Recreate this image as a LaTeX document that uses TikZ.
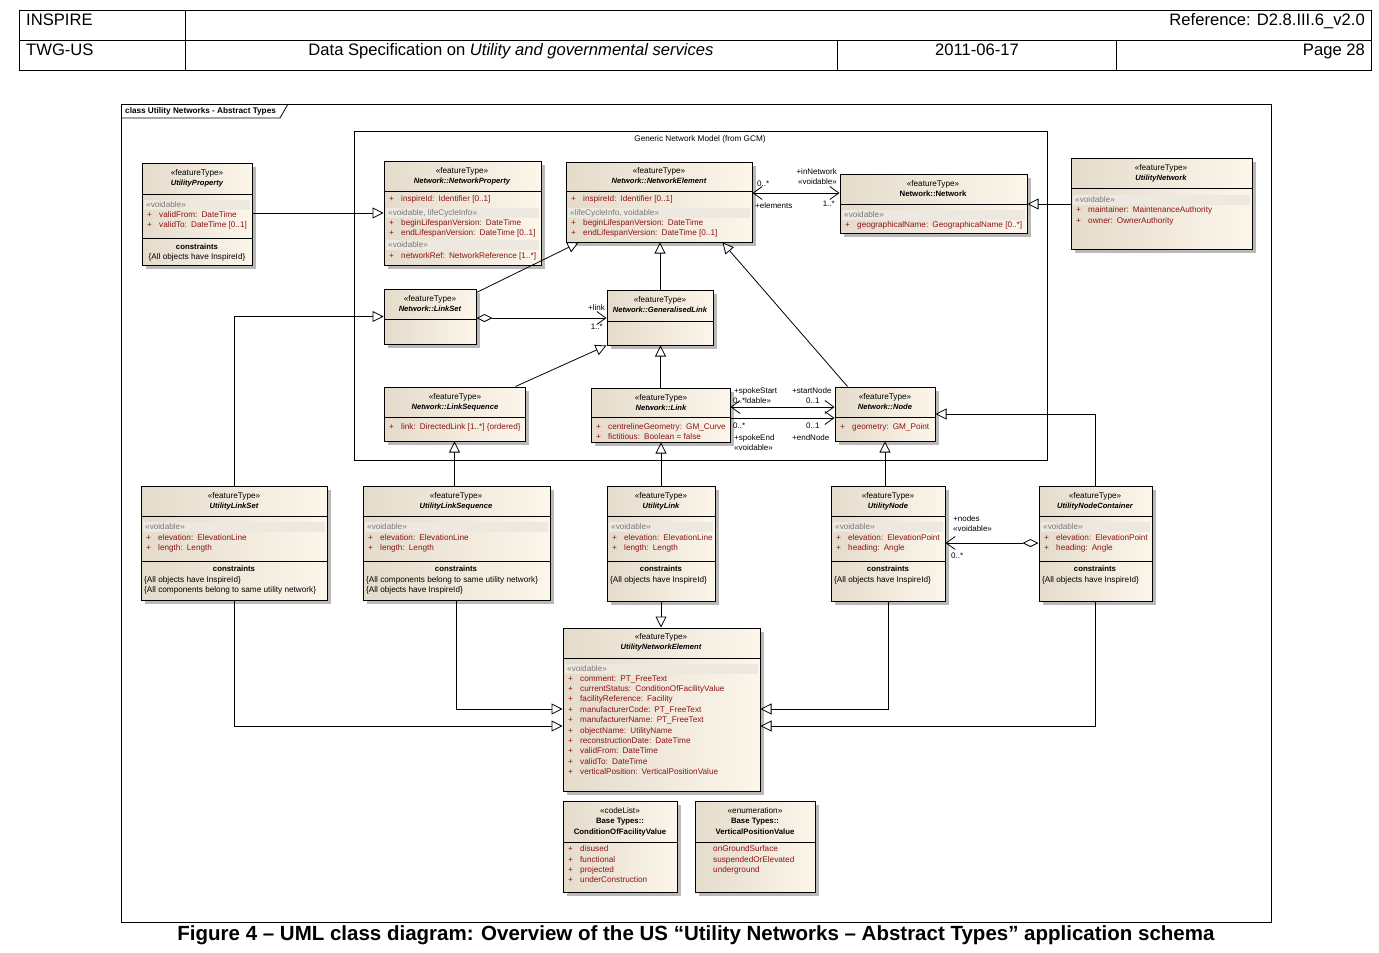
\documentclass[tikz,border=0pt]{standalone}
\usepackage{fontspec}
\setmainfont{Liberation Sans}
\usetikzlibrary{arrows.meta,fit,calc}
\definecolor{attrc}{RGB}{140,20,20}
\definecolor{grayc}{RGB}{120,120,120}
\definecolor{bandc}{RGB}{238,233,224}
\definecolor{boxL}{RGB}{228,219,203}
\definecolor{boxR}{RGB}{252,246,235}
\definecolor{shadowc}{RGB}{185,185,185}
\newcommand{\colsp}{\hspace{0.5em}}
\tikzset{
  utxt/.style={font=\fontsize{8.2}{9.8}\selectfont, inner sep=0pt, text height=6pt, text depth=2pt},
  uattr/.style={utxt, anchor=west, text=attrc},
  ustereo/.style={utxt, anchor=west, text=grayc},
  uhead/.style={utxt, anchor=center},
  uname/.style={utxt, anchor=center, font=\fontsize{7.6}{9}\selectfont\bfseries\itshape},
  ubold/.style={utxt, anchor=center, font=\fontsize{7.8}{9}\selectfont\bfseries},
  ucons/.style={utxt, anchor=west},
  alabel/.style={font=\fontsize{8}{9.6}\selectfont, inner sep=0pt, text height=6pt, text depth=2pt},
  htxt/.style={font=\fontsize{16.6}{19.5}\selectfont, inner sep=0pt, text height=11.8pt, text depth=3.4pt},
  clsbox/.style={draw=black, line width=1pt, left color=boxL, right color=boxR, inner sep=0pt},
  conn/.style={draw=black, line width=0.8pt},
  gen/.style={conn, -{Triangle[length=11pt,width=11pt,fill=white]}},
  navone/.style={conn, -{Straight Barb[length=9pt,width=13pt]}},
  navtwo/.style={conn, {Straight Barb[length=9pt,width=13pt]}-{Straight Barb[length=9pt,width=13pt]}},
  agg/.style={conn, {Diamond[length=16pt,width=8pt,fill=white]}-{Straight Barb[length=9pt,width=13pt]}},
}
\newcommand{\umlbox}[5]{%
  \fill[shadowc] ({#2+4},{#3+4}) rectangle ({#4+4},{#5+4});
  \node[clsbox, fit={(#2,#3) (#4,#5)}] (#1) {};}
\newcommand{\udiv}[3]{\draw[line width=1pt] (#1,#3) -- (#2,#3);}
\newcommand{\uband}[4]{%
  \fill[bandc] ({#1+2},{#3-5}) rectangle ({#2-2},{#3+5});
  \node[ustereo] at ({#1+4},#3) {#4};}
\newcommand{\uatt}[3]{%
  \node[uattr] at ({#1+5},#2) {+};
  \node[uattr] at ({#1+17},#2) {#3};}
\newcommand{\uhdr}[5]{%
  \node[uhead] at (#1,#2) {#3};
  \node[#5] at (#1,{#2+10}) {#4};}
\begin{document}
\begin{tikzpicture}[x=1pt,y=-1pt]
\useasboundingbox (0,0) rectangle (1379,953);
\fill[white] (0,0) rectangle (1379,953);

% ---------- page header
\draw[line width=0.9pt] (19,10) rectangle (1371,70);
\draw[line width=0.9pt] (19,40) -- (1371,40) (185,10) -- (185,70) (837,40) -- (837,70) (1116,40) -- (1116,70);
\node[htxt, anchor=west] (hinspire) at (26,21) {INSPIRE};
\node[htxt, anchor=east] (hreference) at (1365,21) {Reference: D2.8.III.6\_v2.0};
\node[htxt, anchor=west] (htwg) at (26,51) {TWG-US};
\node[htxt] (hspec) at (511,51) {Data Specification on \textit{Utility and governmental services}};
\node[htxt] (hdate) at (977,51) {2011-06-17};
\node[htxt, anchor=east] (hpage) at (1365,51) {Page 28};

% ---------- diagram frame
\draw[line width=0.8pt] (121,104) rectangle (1271,922);
\draw[line width=0.8pt] (121,118) -- (280,118) -- (288,104);
\node[font=\fontsize{8.2}{9.6}\selectfont\bfseries, inner sep=0pt, anchor=west] (ftitle) at (125,111) {class Utility Networks - Abstract Types};

% ---------- GCM package
\draw[line width=0.8pt] (354,131) rectangle (1047,460);
\node[font=\fontsize{8.2}{9.6}\selectfont, inner sep=0pt] (gcmtitle) at (700,139) {Generic Network Model (from GCM)};

% ---------- UtilityProperty
\umlbox{uprop}{142}{163}{252}{265}
\begin{scope}
\clip (142,163) rectangle (252,265);
\udiv{142}{252}{194}\udiv{142}{252}{238}
\uhdr{197}{173}{«featureType»}{UtilityProperty}{uname}
\uband{142}{252}{205}{«voidable»}
\uatt{142}{215}{validFrom:\colsp DateTime}
\uatt{142}{225}{validTo:\colsp DateTime [0..1]}
\node[ubold] at (197,247) {constraints};
\node[utxt] at (197,257) {\{All objects have InspireId\}};
\end{scope}

% ---------- Network::NetworkProperty
\umlbox{nprop}{384}{161}{541}{265}
\begin{scope}
\clip (384,161) rectangle (541,265);
\udiv{384}{541}{191}
\uhdr{462}{171}{«featureType»}{Network::NetworkProperty}{uname}
\uatt{384}{199}{inspireId:\colsp Identifier [0..1]}
\uband{384}{541}{213}{«voidable, lifeCycleInfo»}
\uatt{384}{223}{beginLifespanVersion:\colsp DateTime}
\uatt{384}{233}{endLifespanVersion:\colsp DateTime [0..1]}
\uband{384}{541}{245}{«voidable»}
\uatt{384}{256}{networkRef:\colsp NetworkReference [1..*]}
\end{scope}

% ---------- Network::NetworkElement
\umlbox{nelem}{566}{162}{752}{242}
\begin{scope}
\clip (566,162) rectangle (752,242);
\udiv{566}{752}{191}
\uhdr{659}{171}{«featureType»}{Network::NetworkElement}{uname}
\uatt{566}{199}{inspireId:\colsp Identifier [0..1]}
\uband{566}{752}{213}{«lifeCycleInfo, voidable»}
\uatt{566}{223}{beginLifespanVersion:\colsp DateTime}
\uatt{566}{233}{endLifespanVersion:\colsp DateTime [0..1]}
\end{scope}

% ---------- Network::Network
\umlbox{netw}{840}{174}{1027}{233}
\begin{scope}
\clip (840,174) rectangle (1027,233);
\udiv{840}{1027}{204}
\uhdr{933}{184}{«featureType»}{Network::Network}{ubold}
\uband{840}{1027}{215}{«voidable»}
\uatt{840}{225}{geographicalName:\colsp GeographicalName [0..*]}
\end{scope}

% ---------- UtilityNetwork
\umlbox{unet}{1071}{158}{1252}{249}
\begin{scope}
\clip (1071,158) rectangle (1252,249);
\udiv{1071}{1252}{188}
\uhdr{1161}{168}{«featureType»}{UtilityNetwork}{uname}
\uband{1071}{1252}{200}{«voidable»}
\uatt{1071}{210}{maintainer:\colsp MaintenanceAuthority}
\uatt{1071}{221}{owner:\colsp OwnerAuthority}
\end{scope}

% ---------- Network::LinkSet
\umlbox{linkset}{384}{289}{476}{344}
\udiv{384}{476}{319}
\uhdr{430}{299}{«featureType»}{Network::LinkSet}{uname}

% ---------- Network::GeneralisedLink
\umlbox{glink}{607}{290}{713}{345}
\udiv{607}{713}{321}
\uhdr{660}{300}{«featureType»}{Network::GeneralisedLink}{uname}

% ---------- Network::LinkSequence
\umlbox{lseq}{384}{387}{525}{441}
\begin{scope}
\clip (384,387) rectangle (525,441);
\udiv{384}{525}{417}
\uhdr{455}{397}{«featureType»}{Network::LinkSequence}{uname}
\uatt{384}{427}{link:\colsp DirectedLink [1..*] \{ordered\}}
\end{scope}

% ---------- Network::Link
\umlbox{link}{591}{388}{730}{442}
\begin{scope}
\clip (591,388) rectangle (730,442);
\udiv{591}{730}{417}
\uhdr{661}{398}{«featureType»}{Network::Link}{uname}
\uatt{591}{427}{centrelineGeometry:\colsp GM\_Curve}
\uatt{591}{437}{fictitious:\colsp Boolean = false}
\end{scope}

% ---------- Network::Node
\umlbox{nnode}{835}{387}{935}{441}
\begin{scope}
\clip (835,387) rectangle (935,441);
\udiv{835}{935}{417}
\uhdr{885}{397}{«featureType»}{Network::Node}{uname}
\uatt{835}{427}{geometry:\colsp GM\_Point}
\end{scope}

% ---------- UtilityLinkSet
\umlbox{ulset}{141}{486}{327}{600}
\begin{scope}
\clip (141,486) rectangle (327,600);
\udiv{141}{327}{516}\udiv{141}{327}{561}
\uhdr{234}{496}{«featureType»}{UtilityLinkSet}{uname}
\uband{141}{327}{527}{«voidable»}
\uatt{141}{538}{elevation:\colsp ElevationLine}
\uatt{141}{548}{length:\colsp Length}
\node[ubold] at (234,569) {constraints};
\node[ucons] at (144,580) {\{All objects have InspireId\}};
\node[ucons] at (144,590) {\{All components belong to same utility network\}};
\end{scope}

% ---------- UtilityLinkSequence
\umlbox{ulseq}{363}{486}{550}{600}
\begin{scope}
\clip (363,486) rectangle (550,600);
\udiv{363}{550}{516}\udiv{363}{550}{561}
\uhdr{456}{496}{«featureType»}{UtilityLinkSequence}{uname}
\uband{363}{550}{527}{«voidable»}
\uatt{363}{538}{elevation:\colsp ElevationLine}
\uatt{363}{548}{length:\colsp Length}
\node[ubold] at (456,569) {constraints};
\node[ucons] at (366,580) {\{All components belong to same utility network\}};
\node[ucons] at (366,590) {\{All objects have InspireId\}};
\end{scope}

% ---------- UtilityLink
\umlbox{ulink}{607}{486}{715}{601}
\begin{scope}
\clip (607,486) rectangle (715,601);
\udiv{607}{715}{516}\udiv{607}{715}{561}
\uhdr{661}{496}{«featureType»}{UtilityLink}{uname}
\uband{607}{715}{527}{«voidable»}
\uatt{607}{538}{elevation:\colsp ElevationLine}
\uatt{607}{548}{length:\colsp Length}
\node[ubold] at (661,569) {constraints};
\node[ucons] at (610,580) {\{All objects have InspireId\}};
\end{scope}

% ---------- UtilityNode
\umlbox{unode}{831}{486}{945}{601}
\begin{scope}
\clip (831,486) rectangle (945,601);
\udiv{831}{945}{516}\udiv{831}{945}{561}
\uhdr{888}{496}{«featureType»}{UtilityNode}{uname}
\uband{831}{945}{527}{«voidable»}
\uatt{831}{538}{elevation:\colsp ElevationPoint}
\uatt{831}{548}{heading:\colsp Angle}
\node[ubold] at (888,569) {constraints};
\node[ucons] at (834,580) {\{All objects have InspireId\}};
\end{scope}

% ---------- UtilityNodeContainer
\umlbox{unc}{1039}{486}{1152}{601}
\begin{scope}
\clip (1039,486) rectangle (1152,601);
\udiv{1039}{1152}{516}\udiv{1039}{1152}{561}
\uhdr{1095}{496}{«featureType»}{UtilityNodeContainer}{uname}
\uband{1039}{1152}{527}{«voidable»}
\uatt{1039}{538}{elevation:\colsp ElevationPoint}
\uatt{1039}{548}{heading:\colsp Angle}
\node[ubold] at (1095,569) {constraints};
\node[ucons] at (1042,580) {\{All objects have InspireId\}};
\end{scope}

% ---------- UtilityNetworkElement
\umlbox{une}{563}{628}{760}{791}
\begin{scope}
\clip (563,628) rectangle (760,791);
\udiv{563}{760}{658}
\uhdr{661}{637}{«featureType»}{UtilityNetworkElement}{uname}
\uband{563}{760}{669}{«voidable»}
\uatt{563}{679}{comment:\colsp PT\_FreeText}
\uatt{563}{689.4}{currentStatus:\colsp ConditionOfFacilityValue}
\uatt{563}{699.8}{facilityReference:\colsp Facility}
\uatt{563}{710.2}{manufacturerCode:\colsp PT\_FreeText}
\uatt{563}{720.6}{manufacturerName:\colsp PT\_FreeText}
\uatt{563}{731}{objectName:\colsp UtilityName}
\uatt{563}{741.4}{reconstructionDate:\colsp DateTime}
\uatt{563}{751.8}{validFrom:\colsp DateTime}
\uatt{563}{762.2}{validTo:\colsp DateTime}
\uatt{563}{772.6}{verticalPosition:\colsp VerticalPositionValue}
\end{scope}

% ---------- ConditionOfFacilityValue
\umlbox{cofv}{563}{801}{677}{892}
\udiv{563}{677}{842}
\node[uhead] at (620,811) {«codeList»};
\node[ubold] at (620,821) {Base Types::};
\node[ubold] at (620,832) {ConditionOfFacilityValue};
\uatt{563}{849}{disused}
\uatt{563}{860}{functional}
\uatt{563}{870}{projected}
\uatt{563}{880}{underConstruction}

% ---------- VerticalPositionValue
\umlbox{vpv}{695}{801}{815}{892}
\udiv{695}{815}{842}
\node[uhead] at (755,811) {«enumeration»};
\node[ubold] at (755,821) {Base Types::};
\node[ubold] at (755,832) {VerticalPositionValue};
\node[uattr] at (713,849) {onGroundSurface};
\node[uattr] at (713,860) {suspendedOrElevated};
\node[uattr] at (713,870) {underground};

% ---------- connectors
\draw[gen] (uprop.east |- 0,213) -- (nprop.west |- 0,213);
\draw[navtwo] (nelem.east |- 0,193) -- (netw.west |- 0,193);
\draw[gen] (unet.west |- 0,204) -- (netw.east |- 0,204);
\draw[gen] ([yshift=-4pt]linkset.north east) -- ([xshift=13pt]nelem.south west);
\draw[gen] (glink.north) -- (glink.north |- nelem.south);
\draw[gen] ([xshift=13pt]nnode.north west) -- ([xshift=-30pt]nelem.south east);
\draw[agg] (linkset.east |- 0,318) -- (glink.west |- 0,318);
\draw[gen] ([xshift=-10pt]lseq.north east) -- (glink.south west);
\draw[gen] (link.north) -- (link.north |- glink.south);
\draw[navtwo] (link.east |- 0,407) -- (nnode.west |- 0,407);
\draw[navone] (link.east |- 0,418) -- (nnode.west |- 0,418);
\draw[gen] (ulset.north) |- (linkset.west);
\draw[gen] (ulseq.north -| lseq.south) -- (lseq.south);
\draw[gen] (ulink.north) -- (ulink.north |- link.south);
\draw[gen] (unode.north -| nnode.south) -- (nnode.south);
\draw[gen] (unc.north) |- (nnode.east);
\draw[agg] (unc.west |- 0,543) -- (unode.east |- 0,543);
\draw[gen] (ulink.south) -- (ulink.south |- une.north);
\draw[gen] (ulseq.south) |- (une.west |- 0,709);
\draw[gen] (ulset.south) |- (une.west |- 0,726);
\draw[gen] (unode.south) |- (une.east |- 0,709);
\draw[gen] (unc.south) |- (une.east |- 0,726);

% ---------- association labels
\node[alabel, anchor=west] (lelemmult) at (757,184) {0..*};
\node[alabel, anchor=west] (lelements) at (755,206) {+elements};
\node[alabel, anchor=east] (linnetwork) at (837,172) {+inNetwork};
\node[alabel, anchor=east] (linnetvoid) at (837,182) {«voidable»};
\node[alabel, anchor=east] (linnetmult) at (835,204) {1..*};
\node[alabel, anchor=east] (llinkrole) at (605,308) {+link};
\node[alabel, anchor=east] (llinkmult) at (603,327) {1..*};
\node[alabel, anchor=west] (lspokestart) at (734,391) {+spokeStart};
\node[alabel, anchor=west] (lspokestartm) at (733,401) {0..*ldable»};
\node[alabel, anchor=west] (lstartnode) at (792,391) {+startNode};
\node[alabel, anchor=west] (lstartmult) at (806,401) {0..1};
\node[alabel, anchor=west] (lspokeendm) at (733,426) {0..*};
\node[alabel, anchor=west] (lendmult) at (806,426) {0..1};
\node[alabel, anchor=west] (lspokeend) at (734,438) {+spokeEnd};
\node[alabel, anchor=west] (lendnode) at (792,438) {+endNode};
\node[alabel, anchor=west] (lspokeendv) at (734,448) {«voidable»};
\node[alabel, anchor=west] (lnodes) at (953,519) {+nodes};
\node[alabel, anchor=west] (lnodesv) at (953,529) {«voidable»};
\node[alabel, anchor=west] (lnodesm) at (951,556) {0..*};

% ---------- caption
\node[font=\fontsize{20.5}{24}\selectfont\bfseries, inner sep=0pt] (caption) at (696,935) {Figure 4 – UML class diagram: Overview of the US “Utility Networks – Abstract Types” application schema};
\end{tikzpicture}
\end{document}
